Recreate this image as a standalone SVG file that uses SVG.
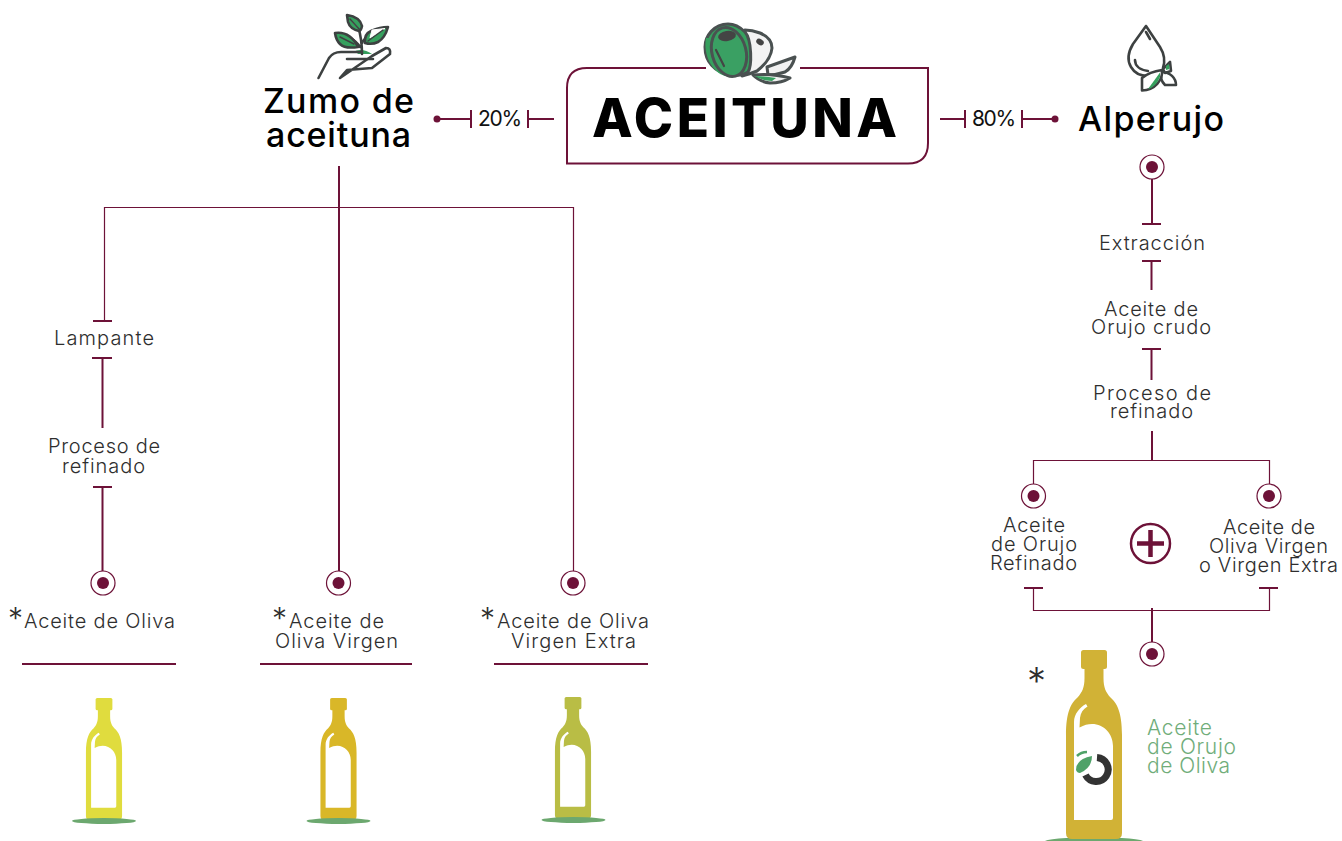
<svg xmlns="http://www.w3.org/2000/svg" width="1342" height="841" viewBox="0 0 1342 841">
<style>
text{font-family:"Inter","Liberation Sans",sans-serif;fill:#2e2e2e;font-size:20px;font-weight:300}
.h{font-size:34px;font-weight:500;fill:#000}
.p{font-size:21px;font-weight:400;fill:#111}
.g{fill:#70ad7a;font-size:21px}
.st{font-size:30px;font-weight:300}
.c2{fill:none;stroke:#6d1238;stroke-width:2}
.c1{fill:none;stroke:#6d1238;stroke-width:1.2}
.ic{fill:none;stroke:#3d4141;stroke-width:2.6;stroke-linejoin:round;stroke-linecap:round}
.lf{fill:#36a05e}
.ol{stroke:#4a5151;stroke-width:3;stroke-linejoin:round}
</style>
<defs>
<g id="node"><circle r="12" fill="#fff" stroke="#6d1238" stroke-width="1.2"/><circle r="6" fill="#6d1238"/></g>
<g id="bottle"><rect x="-13" y="0" width="26" height="19" rx="2.500"/><path d="M-9.500 17V28C-9.500 38-12 42-16 47-23 53-28 62-28 85V183Q-28 189-22 189H22Q28 189 28 183V85C28 62 23 53 16 47 12 42 9.500 38 9.500 28V17Z"/><path fill="#fff" d="M-20 170V72C-20 64-14 57-8 54L-6.500 56.500C-11 59-13.500 63-14 68L-14.500 77.500C-10 75-6 74-2 74 10 74 19 84 19 96V168Q19 170 17 170Z"/></g>
</defs>
<g id="connectors">
<path class="c2" d="M339 166V572M102.500 358V428M102.500 487V572M92 358H112M93 487H112M93 321H112M22 664H176M260 664H412M494 664H648"/>
<path class="c1" d="M104.500 321V207.500H573.500V572"/>
<path class="c2" d="M437 119H471M471 110V128M528 110V128M528 119H554M940 119H965M965 110V128M1022 110V128M1022 119H1055"/>
<circle cx="437" cy="119" r="3.500" fill="#6d1238"/><circle cx="1055" cy="119" r="3.500" fill="#6d1238"/>
<path class="c2" d="M1152 179V224M1142 224H1161M1142 261H1161M1151.500 261V290M1142 349H1161M1151.500 349V380M1152 431V461M1024 588H1043M1259 588H1278M1152 608V643"/>
<path class="c1" d="M1033.500 484V460.500H1269.500V484M1033.500 588V610.500H1269.500V588"/>
</g>
<g id="n-aceituna">
<path d="M706 68H587Q567 68 567 88V163.500H908Q928 163.500 928 143V68H800" fill="#fff" stroke="#6d1238" stroke-width="2"/>
<path d="M767 67L795 57Q792 68 785 72 776 75 768 75Z" fill="#f1f1f1" class="ol"/>
<path d="M753 75Q772 73 790 78 782 83 770 83 760 82 753 75Z" fill="#f1f1f1" class="ol"/>
<path d="M755 76Q765 76 776 78L772 81Q762 81 755 76Z" fill="#36a05e"/>
<path d="M745 30Q752 30 760 33 772 38 772 48 771 60 757 71 750 74 742 76Z" fill="#f3f3f3" class="ol"/>
<path d="M728 24C714 24 705 36 705 47 705 62 715 72 728 74 736 76 742 76 748 72 752 66 752 40 745 32 740 27 735 24 728 24Z" fill="#36a05e" class="ol"/>
<path d="M706 38C703 55 712 72 725 76L731 76C716 72 708 56 711 38Z" fill="#36a05e"/>
<ellipse cx="729" cy="52" rx="17" ry="25" transform="rotate(-15 729 52)" fill="#3aa063" class="ol"/>
<ellipse cx="727" cy="36" rx="9" ry="5" fill="#444" transform="rotate(-10 727 36)"/>
<path d="M716 50L724 66" stroke="#444" stroke-width="2.200" stroke-linecap="round"/>
<ellipse cx="760" cy="42" rx="4" ry="3" fill="#444" transform="rotate(30 760 42)"/>
<text x="592" y="137" textLength="305" style="font-size:53px;font-weight:800;fill:#000">ACEITUNA</text>
</g>
<g id="n-zumo">
<path d="M353 52Q362 47 372 54H353Z" class="lf"/>
<path class="ic" style="fill:#fff" d="M318.500 78L329 58Q333 52 341 52H360M372 56L386 48Q391 48 390 54L372 68 347 70 340 78Z"/>
<path class="ic" d="M347 59H373M362 54C362 44 361 36 358 26M362 43C363 40 366 38 370 35M360 47C358 43 354 40 349 37"/>
<path class="ic lf" style="fill:#36a05e" d="M347 15Q360 17 362 26 361 31 359 31 350 29 348 22ZM335 33Q350 31 358 47 345 49 340 44 336 40 335 33ZM365 43Q364 34 371 31 380 27 388 27 385 38 378 42 372 45 365 43Z"/>
<path d="M372 30L385 28.500 370 38ZM351 20L358 28" stroke="#fff" stroke-width="1" fill="#fff"/>
<path class="ic" stroke-width="1.500" style="stroke-width:1.500" d="M350 19L360 30M340 37L354 44M383 30L368 41"/>
<text class="h" x="263" y="113" textLength="151">Zumo de</text>
<text class="h" x="266" y="147" textLength="145">aceituna</text>
</g>
<g id="n-20"><text class="p" x="478" y="126" textLength="44">20%</text></g>
<g id="n-80"><text class="p" x="972" y="126" textLength="44">80%</text></g>
<g id="n-alperujo">
<path class="ic" d="M1146 26L1133 44C1127 54 1128 62 1131 67 1135 74 1142 76 1148 76M1160 47C1165 55 1165 62 1163 68M1146 26L1160 47"/>
<path class="ic" d="M1146 32L1150 39M1135 60C1135 66 1140 70 1148 71"/>
<path class="ic" style="fill:#fff" d="M1163 69L1170 62 1171 71 1165 73ZM1162 72C1170 72 1176 78 1176 85L1165 85C1162 82 1160 77 1162 72Z"/>
<path class="lf" d="M1166 66L1169 64 1169.500 69 1166 70Z"/>
<path class="ic" d="M1142 90.500V78C1148 73 1155 71 1162 70 1163 80 1155 90 1142 90.500Z" style="fill:#fff"/>
<path class="lf" d="M1148 89L1160 72.500 1160 77Q1156 87 1148 89Z"/>
<text class="h" x="1078" y="131" textLength="146">Alperujo</text>
</g>
<g id="n-lampante"><text x="54" y="345" textLength="100">Lampante</text><use href="#node" x="103" y="583"/></g>
<g id="n-proceso1"><text x="48" y="453" textLength="112">Proceso de</text><text x="62" y="473" textLength="83">refinado</text></g>
<g id="n-oliva">
<text class="st" x="8" y="629">*</text>
<text x="24" y="628" textLength="151">Aceite de Oliva</text>
<use href="#bottle" transform="translate(104 698) scale(.645)" fill="#e0dc3e"/>
<ellipse cx="104" cy="821" rx="32" ry="3" fill="#6ca86f"/>
</g>
<g id="n-virgen">
<use href="#node" x="338.500" y="583"/>
<text class="st" x="272" y="629">*</text>
<text x="289" y="628" textLength="95">Aceite de</text><text x="275" y="648" textLength="123">Oliva Virgen</text>
<use href="#bottle" transform="translate(338.500 698) scale(.645)" fill="#d9b728"/>
<ellipse cx="338.500" cy="821" rx="32" ry="3" fill="#6ca86f"/>
</g>
<g id="n-extra">
<use href="#node" x="573" y="583"/>
<text class="st" x="480" y="629">*</text>
<text x="497" y="628" textLength="152">Aceite de Oliva</text><text x="511" y="648" textLength="125">Virgen Extra</text>
<use href="#bottle" transform="translate(573 697) scale(.645)" fill="#b9bd45"/>
<ellipse cx="573.500" cy="820" rx="32" ry="3" fill="#6ca86f"/>
</g>
<g id="n-alp-steps">
<use href="#node" x="1152" y="167"/>
<text x="1099" y="250" textLength="106">Extracción</text>
<text x="1104" y="316" textLength="94">Aceite de</text><text x="1091" y="334" textLength="120">Orujo crudo</text>
<text x="1093" y="400" textLength="118">Proceso de</text><text x="1110" y="418" textLength="83">refinado</text>
</g>
<g id="n-refinado"><use href="#node" x="1033.500" y="496"/>
<text x="1003" y="532" textLength="62">Aceite</text><text x="991" y="551" textLength="86">de Orujo</text><text x="990" y="570" textLength="87">Refinado</text></g>
<g id="n-plus"><circle cx="1150.500" cy="543.500" r="19.500" fill="#fff" stroke="#6d1238" stroke-width="2.500"/><path d="M1137 543.500H1164M1150.500 530V557" stroke="#6d1238" stroke-width="4.500" fill="none"/></g>
<g id="n-virgen2"><use href="#node" x="1269" y="496"/>
<text x="1223" y="534" textLength="92">Aceite de</text><text x="1209" y="553" textLength="119">Oliva Virgen</text><text x="1199" y="572" textLength="139">o Virgen Extra</text></g>
<g id="n-orujo">
<use href="#node" x="1152" y="654"/>
<text style="font-size:38px;font-weight:300" x="1027" y="695">*</text>
<ellipse cx="1094" cy="842" rx="50" ry="5" fill="#6ca86f"/>
<use href="#bottle" transform="translate(1094 650)" fill="#d1b236"/>
<path d="M1097 757.500A12 12 0 1 1 1085.500 775" fill="none" stroke="#333" stroke-width="7"/>
<path d="M1076 770Q1076 759 1092 756 1092 768 1080 773Q1077 773 1076 770Z" fill="#4fa268"/>
<path d="M1077 756Q1081 752 1087 752" fill="none" stroke="#4fa268" stroke-width="2.500"/>
<text class="g" x="1147" y="735" textLength="65">Aceite</text><text class="g" x="1147" y="754" textLength="89">de Orujo</text><text class="g" x="1147" y="773" textLength="83">de Oliva</text>
</g>
</svg>
